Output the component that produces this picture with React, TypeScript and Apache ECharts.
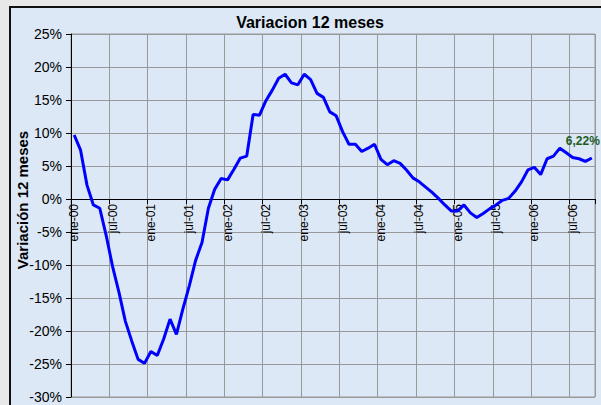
import React, { useEffect, useRef } from "react";
import * as echarts from "echarts";

const monthNames = ["ene", "feb", "mar", "abr", "may", "jun", "jul", "ago", "sep", "oct", "nov", "dic"];
const years = ["00", "01", "02", "03", "04", "05", "06"];
const categories: string[] = [];
years.forEach((y) => monthNames.forEach((m) => categories.push(`${m}-${y}`)));
categories.splice(82);

const values = [
  9.7, 7.4, 2.1, -0.9, -1.4, -5.5, -10.2, -14.1, -18.5, -21.5, -24.3, -24.9,
  -23.1, -23.7, -21.2, -18.2, -20.5, -16.7, -13.2, -9.3, -6.6, -1.4, 1.5, 3.1,
  2.9, 4.5, 6.2, 6.5, 12.8, 12.7, 14.9, 16.5, 18.3, 18.9, 17.6, 17.3,
  18.9, 18.1, 16.0, 15.4, 13.2, 12.6, 10.2, 8.3, 8.3, 7.2, 7.7, 8.3,
  6.0, 5.2, 5.8, 5.4, 4.4, 3.2, 2.6, 1.8, 1.0, 0.1, -0.9, -1.8,
  -1.8, -0.9, -2.1, -2.8, -2.2, -1.5, -0.9, -0.2, 0.1, 1.2, 2.6, 4.4,
  4.8, 3.7, 6.1, 6.5, 7.7, 7.0, 6.3, 6.1, 5.7, 6.22,
];

const yTicks = { min: -30, max: 25, interval: 5 };
const title = "Variacion 12 meses";
const yName = "Variación 12 meses";

export default function App() {
  const ref = useRef<HTMLDivElement>(null);
  useEffect(() => {
    if (!ref.current) return;
    const chart = echarts.init(ref.current, null, { renderer: "svg" });
    const font = "Liberation Sans, Arial, sans-serif";
    const gridTop = 34;
    const gridBottom = 8;
    const plotH = 405 - gridTop - gridBottom;
    const zeroOffset = -(plotH * (0 - yTicks.min)) / (yTicks.max - yTicks.min);
    chart.setOption({
      animation: false,
      backgroundColor: "#e8e8e8",
      textStyle: { fontFamily: font },
      graphic: [
        {
          type: "rect",
          z: -10,
          shape: { x: 10, y: 7, width: 600, height: 410 },
          style: { fill: "#dce8f6", stroke: "#111", lineWidth: 2 },
          silent: true,
        },
        {
          type: "text",
          x: 310,
          y: 22,
          style: {
            text: title,
            font: `bold 16px ${font}`,
            fill: "#000",
            align: "center",
            verticalAlign: "middle",
          },
        },
        {
          type: "text",
          x: 22,
          y: 200,
          rotation: Math.PI / 2,
          style: {
            text: yName,
            font: `bold 15px ${font}`,
            fill: "#000",
            align: "center",
            verticalAlign: "middle",
          },
        },
      ],
      grid: {
        left: 71,
        top: gridTop,
        right: 6,
        bottom: gridBottom,
        show: true,
        backgroundColor: "transparent",
        borderColor: "#999",
        borderWidth: 1,
      },
      xAxis: {
        type: "category",
        data: categories,
        boundaryGap: true,
        position: "bottom",
        offset: zeroOffset,
        axisLine: { onZero: false, lineStyle: { color: "#000", width: 1 } },
        axisTick: { show: true, interval: 5, length: 5, lineStyle: { color: "#000" } },
        axisLabel: {
          interval: 5,
          rotate: 90,
          margin: 5,
          fontSize: 12,
          color: "#000",
          fontFamily: font,
        },
        splitLine: { show: true, interval: 5, lineStyle: { color: "#999", width: 1 } },
      },
      yAxis: {
        type: "value",
        min: yTicks.min,
        max: yTicks.max,
        interval: yTicks.interval,
        axisLine: { show: true, lineStyle: { color: "#000", width: 1 } },
        axisTick: { show: true, length: 5, lineStyle: { color: "#000" } },
        axisLabel: {
          formatter: (v: number) => `${v}%`,
          fontSize: 14,
          margin: 9,
          color: "#000",
          fontFamily: font,
        },
        splitLine: { show: true, lineStyle: { color: "#999", width: 1 } },
      },
      series: [
        {
          type: "line",
          data: values,
          showSymbol: false,
          symbol: "none",
          lineStyle: { color: "#0000ff", width: 3 },
          clip: false,
          endLabel: {
            show: true,
            formatter: (p: any) => `${Number(p.value).toFixed(2).replace(".", ",")}%`,
            color: "#1e5c1e",
            fontWeight: "bold",
            fontSize: 12,
            fontFamily: font,
            align: "left",
            verticalAlign: "middle",
            distance: 0,
            offset: [-26, -17],
          },
        },
      ],
    });
    return () => chart.dispose();
  }, []);
  return (
    <div
      ref={ref}
      style={{ position: "fixed", left: 0, top: 0, width: 601, height: 405 }}
    />
  );
}
